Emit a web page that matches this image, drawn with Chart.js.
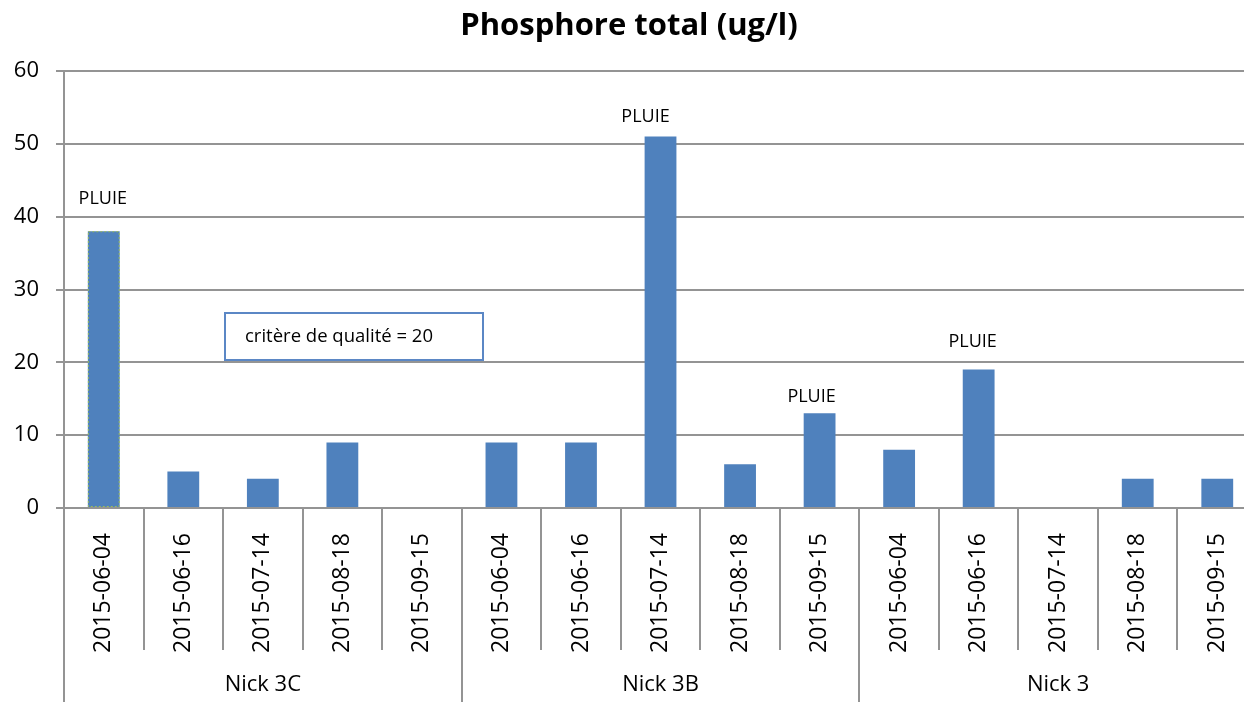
<!DOCTYPE html>
<html>
<head>
<meta charset="utf-8">
<script src="https://cdn.jsdelivr.net/npm/chart.js@4/dist/chart.umd.min.js"></script>
<style>
  html, body { margin: 0; padding: 0; background: #fff; overflow: hidden; }
  #wrap { width: 1262px; height: 702px; position: relative; }
</style>
</head>
<body>
<div id="wrap"><canvas id="grafico"></canvas></div>
<script>
// Datos del gráfico
const fechas = ['2015-06-04', '2015-06-16', '2015-07-14', '2015-08-18', '2015-09-15',
                '2015-06-04', '2015-06-16', '2015-07-14', '2015-08-18', '2015-09-15',
                '2015-06-04', '2015-06-16', '2015-07-14', '2015-08-18', '2015-09-15'];
const stations = ['Nick 3C', 'Nick 3B', 'Nick 3'];
const phosphore = [38, 5, 4, 9, null, 9, 9, 51, 6, 13, 8, 19, null, 4, 4];
const pluieIdx = [0, 7, 9, 11];
const yTicks = [0, 10, 20, 30, 40, 50, 60];
const critere = 'critère de qualité = 20';

// placement of the PLUIE notes relative to bar tops (dx, dy)
const pluieShift = [[-1, 32], [-15, 20], [-8, 16], [-6, 28]];

const FONT = '"Open Sans", "Liberation Sans", sans-serif';
const GRIS = '#949494';

const overlay = {
    id: 'overlay',
    afterDatasetsDraw(chart) {
        const ctx = chart.ctx;
        const meta = chart.getDatasetMeta(0);
        ctx.save();
        // borde punteado de la primera barra
        const b = meta.data[0];
        ctx.strokeStyle = '#9bbb59';
        ctx.lineWidth = 1;
        ctx.setLineDash([2, 2]);
        ctx.strokeRect(b.x - b.width / 2 + 0.5, b.y + 0.5, b.width - 1, b.base - b.y - 1);
        ctx.setLineDash([]);
        // notas PLUIE
        ctx.fillStyle = '#000';
        ctx.font = '18px ' + FONT;
        ctx.textAlign = 'center';
        ctx.textBaseline = 'middle';
        pluieIdx.forEach((i, k) => {
            const bar = meta.data[i];
            ctx.fillText('PLUIE', bar.x + pluieShift[k][0], bar.y - pluieShift[k][1]);
        });
        ctx.restore();
    },
    afterDraw(chart) {
        const ctx = chart.ctx;
        const x = chart.scales.x;
        const area = chart.chartArea;
        const w = x.getPixelForValue(1) - x.getPixelForValue(0);
        const n = fechas.length;
        const per = n / stations.length;
        ctx.save();
        ctx.strokeStyle = GRIS;
        ctx.lineWidth = 2;
        for (let i = 0; i <= n; i++) {
            const px = Math.round(x.getPixelForValue(i) - w / 2);
            const fin = (i % per === 0) ? chart.height : area.bottom + 142;
            ctx.beginPath();
            ctx.moveTo(px, area.bottom);
            ctx.lineTo(px, fin);
            ctx.stroke();
        }
        // etiquetas de estación
        ctx.fillStyle = '#000';
        ctx.font = '22px ' + FONT;
        ctx.textAlign = 'center';
        ctx.textBaseline = 'middle';
        stations.forEach((s, k) => {
            const cx = (x.getPixelForValue(k * per) + x.getPixelForValue(k * per + per - 1)) / 2;
            ctx.fillText(s, cx, 685);
        });
        // cuadro de texto
        ctx.fillStyle = '#fff';
        ctx.fillRect(225, 313, 258, 47);
        ctx.strokeStyle = '#5b87c5';
        ctx.lineWidth = 2;
        ctx.strokeRect(225, 313, 258, 47);
        ctx.fillStyle = '#000';
        ctx.font = '18.5px ' + FONT;
        ctx.textAlign = 'left';
        ctx.fillText(critere, 245, 337);
        ctx.restore();
    }
};

const ctx = document.getElementById('grafico').getContext('2d');
const chart = new Chart(ctx, {
    type: 'bar',
    data: {
        labels: fechas,
        datasets: [{
            label: 'Phosphore total',
            data: phosphore,
            backgroundColor: '#4f81bd',
            borderWidth: 0,
            barPercentage: 0.5,
            categoryPercentage: 0.8
        }]
    },
    options: {
        responsive: true,
        maintainAspectRatio: false,
        animation: false,
        layout: { padding: { left: 0, right: 4, top: 0, bottom: 0 } },
        plugins: {
            legend: { display: false },
            tooltip: { enabled: false },
            title: {
                display: true,
                text: 'Phosphore total (ug/l)',
                color: '#000',
                font: { family: FONT, size: 31, weight: 'bold' },
                padding: { top: 8, bottom: 25.8 }
            }
        },
        scales: {
            x: {
                afterFit: s => { s.height = 194; },
                grid: { display: false },
                border: { display: true, color: GRIS, width: 2 },
                ticks: {
                    color: '#000',
                    font: { family: FONT, size: 23 },
                    minRotation: 90,
                    maxRotation: 90,
                    autoSkip: false,
                    padding: 17
                }
            },
            y: {
                min: 0,
                max: 60,
                afterFit: s => { s.width = 64; },
                afterBuildTicks: s => { s.ticks = yTicks.map(v => ({ value: v })); },
                grid: { color: GRIS, lineWidth: 2, tickLength: 8 },
                border: { display: true, color: GRIS, width: 2 },
                ticks: {
                    color: '#000',
                    font: { family: FONT, size: 22 },
                    padding: 17
                }
            }
        }
    },
    plugins: [overlay]
});
</script>
</body>
</html>
